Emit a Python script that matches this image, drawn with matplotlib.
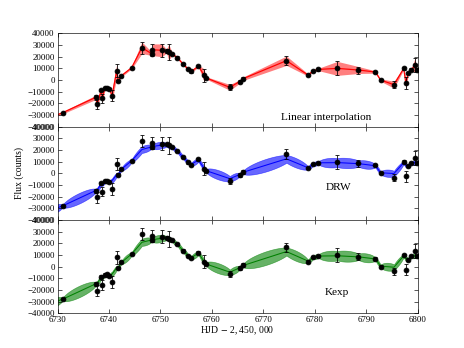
import numpy as np
import matplotlib
matplotlib.use("Agg")
import matplotlib.pyplot as plt

plt.rcParams['font.family'] = ['Liberation Serif', 'DejaVu Serif']
plt.rcParams['mathtext.fontset'] = 'stix'

# observation times (HJD - 2,450,000), flux (counts) and 1-sigma errors
t_obs = [6725.0, 6731.0, 6737.4, 6737.7, 6738.5, 6738.7, 6739.2, 6739.7, 6740.1,
         6740.6, 6741.5, 6741.8, 6742.4, 6744.4, 6746.4, 6748.3, 6748.4, 6750.3,
         6751.2, 6751.6, 6752.3, 6753.3, 6754.4, 6755.4, 6756.0, 6757.4, 6758.5,
         6758.8, 6763.5, 6765.4, 6766.1, 6774.5, 6778.7, 6779.7, 6780.7, 6784.4,
         6788.5, 6791.8, 6792.8, 6795.4, 6797.3, 6797.7, 6798.2, 6798.8, 6799.5,
         6799.8, 6800.5]
flux = [-38000, -28000, -14900, -20600, -8600, -15700, -6900, -6600, -7700,
        -13400, 8000, -1100, 3700, 10600, 27700, 22600, 26000, 25500,
        24800, 23900, 22400, 19200, 13700, 9300, 7400, 12000, 4000,
        2000, -6300, -1300, 1200, 16600, 4300, 8000, 9100, 10000,
        8600, 6900, 0, -4000, 10000, -2600, 6000, 8900, 13000,
        9000, 9500]
flux_err = [1000, 1000, 1800, 4500, 1200, 4000, 1000, 1000, 1000,
            5000, 5500, 1000, 1000, 1000, 5000, 1500, 5000, 5500,
            1500, 7000, 1000, 1000, 1000, 1000, 1000, 1000, 5500,
            1000, 2500, 1500, 1500, 4000, 1000, 1000, 1000, 6000,
            3000, 1000, 1000, 3000, 1000, 5000, 1000, 1000, 6000,
            1000, 1000]

panel_names = ["Linear interpolation", "DRW", "Kexp"]
line_colors = ["#ff0000", "#0000ff", "#008000"]
band_colors = ["#ff0000", "#0000ff", "#008000"]
band_alpha = [0.5, 0.6, 0.6]
# kernel hyper-parameters (amplitude, timescale) for the two GP panels
gp_params = {"DRW": (35000.0, 200.0, 1.0), "Kexp": (33000.0, 150.0, 1.0)}

x_ticks = [6730, 6740, 6750, 6760, 6770, 6780, 6790, 6800]
y_ticks = [-40000, -30000, -20000, -10000, 0, 10000, 20000, 30000, 40000]

t = np.array(t_obs)
y = np.array(flux, dtype=float)
e = np.array(flux_err, dtype=float)


def gp_predict(tg, sig, tau, beta):
    def k(a, b):
        d = np.abs(a[:, None] - b[None, :])
        return sig ** 2 * np.exp(-(d / tau) ** beta)
    mu = y.mean()
    K = k(t, t) + np.diag(e ** 2)
    Ks = k(tg, t)
    alpha = np.linalg.solve(K, y - mu)
    m = mu + Ks @ alpha
    v = sig ** 2 - np.einsum('ij,ji->i', Ks, np.linalg.solve(K, Ks.T))
    return m, np.sqrt(np.clip(v, 0, None))


fig = plt.figure(figsize=(8, 6), dpi=58)
fig.subplots_adjust(left=0.124, right=0.90, top=0.904, bottom=0.10, hspace=0)
axes = [fig.add_subplot(3, 1, i + 1) for i in range(3)]

tg = np.linspace(6724, 6802, 1200)
text_pos = [(0.745, 0.10), (0.78, 0.35), (0.775, 0.22)]

for i, ax in enumerate(axes):
    name = panel_names[i]
    if name == "Linear interpolation":
        ax.fill_between(t, y - e, y + e, color=band_colors[i], alpha=band_alpha[i],
                        lw=0)
        ax.plot(t, y, color=line_colors[i], lw=1.5)
    else:
        sig, tau, beta = gp_params[name]
        m, s = gp_predict(tg, sig, tau, beta)
        ax.fill_between(tg, m - s, m + s, color=band_colors[i], alpha=band_alpha[i],
                        lw=0.8, edgecolor=band_colors[i])
        ax.plot(tg, m, color=line_colors[i], lw=1.3)
    ax.errorbar(t, y, yerr=e, fmt='o', color='black', ms=6, capsize=3,
                elinewidth=1.0, capthick=1.0, zorder=5)
    ax.set_xlim(6730, 6800)
    ax.set_ylim(-40000, 40000)
    ax.set_xticks(x_ticks)
    ax.set_yticks(y_ticks)
    ax.tick_params(direction='in', top=True, right=True, labelsize=11,
                   length=5, width=0.8)
    if i < 2:
        ax.tick_params(labelbottom=False)
    ax.text(text_pos[i][0], text_pos[i][1], name, transform=ax.transAxes,
            ha='center', va='center', fontsize=14)

axes[1].set_ylabel("Flux (counts)", fontsize=12)
axes[2].set_xlabel(r"HJD$\,-\,$2, 450, 000", fontsize=12, labelpad=1)

fig.savefig("out.png", dpi=58)
